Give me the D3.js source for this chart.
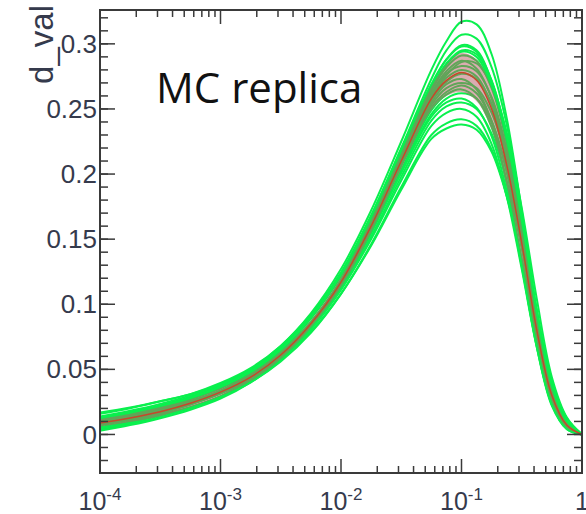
<!DOCTYPE html>
<html>
<head>
<meta charset="utf-8">
<script src="https://cdn.jsdelivr.net/npm/d3@7"></script>
<style>
  body { margin: 0; background: #fff; }
  svg { display: block; }
</style>
</head>
<body>
<div id="chart"></div>
<script>
// x grid as powers of ten
let xExp = [-4, -3.75, -3.5, -3.25, -3, -2.75, -2.5, -2.25, -2, -1.75, -1.5, -1.25, -1.125, -1, -0.875, -0.75, -0.625, -0.5, -0.375, -0.25, -0.125, 0];

// central (red) curve
let central = [0.0088, 0.0127, 0.0175, 0.024, 0.0325, 0.044, 0.061, 0.085, 0.117, 0.160, 0.210, 0.258, 0.272, 0.278, 0.272, 0.250, 0.207, 0.147, 0.080, 0.030, 0.007, 0];

// 1 sigma band
let bandHi = [0.012, 0.016, 0.021, 0.027, 0.0355, 0.047, 0.064, 0.088, 0.121, 0.165, 0.216, 0.267, 0.284, 0.293, 0.288, 0.266, 0.223, 0.160, 0.089, 0.035, 0.009, 0];
let bandLo = [0.006, 0.0095, 0.014, 0.021, 0.0295, 0.041, 0.058, 0.082, 0.113, 0.155, 0.204, 0.249, 0.260, 0.263, 0.256, 0.234, 0.191, 0.134, 0.071, 0.025, 0.005, 0];

// MC replicas (green)
let replicas = [
  [0.0128, 0.0172, 0.0225, 0.029, 0.0375, 0.050, 0.068, 0.093, 0.127, 0.172, 0.225, 0.280, 0.302, 0.317, 0.315, 0.292, 0.243, 0.172, 0.094, 0.036, 0.009, 0],
  [0.0108, 0.0152, 0.0205, 0.027, 0.0355, 0.048, 0.066, 0.091, 0.124, 0.168, 0.220, 0.273, 0.295, 0.307, 0.304, 0.282, 0.238, 0.170, 0.095, 0.037, 0.010, 0],
  [0.0158, 0.0202, 0.0255, 0.031, 0.0395, 0.051, 0.068, 0.092, 0.124, 0.167, 0.217, 0.268, 0.288, 0.299, 0.295, 0.271, 0.224, 0.155, 0.082, 0.029, 0.006, 0],
  [0.0088, 0.0132, 0.0185, 0.025, 0.0335, 0.046, 0.064, 0.089, 0.122, 0.166, 0.216, 0.266, 0.284, 0.294, 0.290, 0.268, 0.226, 0.163, 0.091, 0.036, 0.009, 0],
  [0.0038, 0.0082, 0.0135, 0.020, 0.0285, 0.041, 0.059, 0.084, 0.118, 0.163, 0.214, 0.264, 0.282, 0.291, 0.287, 0.266, 0.225, 0.165, 0.095, 0.040, 0.012, 0],
  [0.0138, 0.0182, 0.0235, 0.030, 0.0385, 0.050, 0.067, 0.090, 0.122, 0.165, 0.214, 0.262, 0.279, 0.287, 0.281, 0.258, 0.213, 0.149, 0.079, 0.028, 0.006, 0],
  [0.0068, 0.0112, 0.0165, 0.023, 0.0315, 0.044, 0.061, 0.086, 0.119, 0.163, 0.213, 0.261, 0.277, 0.283, 0.279, 0.259, 0.219, 0.160, 0.091, 0.037, 0.010, 0],
  [0.0098, 0.0142, 0.0195, 0.025, 0.0335, 0.045, 0.062, 0.086, 0.118, 0.161, 0.211, 0.259, 0.274, 0.280, 0.275, 0.253, 0.210, 0.149, 0.081, 0.031, 0.007, 0],
  [0.0048, 0.0092, 0.0145, 0.021, 0.0295, 0.042, 0.059, 0.083, 0.116, 0.159, 0.209, 0.257, 0.271, 0.277, 0.273, 0.254, 0.215, 0.158, 0.091, 0.038, 0.011, 0],
  [0.0128, 0.0167, 0.0215, 0.0275, 0.0355, 0.047, 0.063, 0.086, 0.117, 0.159, 0.208, 0.255, 0.269, 0.273, 0.265, 0.240, 0.193, 0.131, 0.067, 0.022, 0.004, 0],
  [0.0078, 0.0117, 0.0165, 0.023, 0.0315, 0.043, 0.061, 0.085, 0.117, 0.159, 0.207, 0.253, 0.266, 0.270, 0.266, 0.247, 0.210, 0.157, 0.094, 0.041, 0.012, 0],
  [0.0108, 0.0147, 0.0195, 0.025, 0.0325, 0.043, 0.060, 0.083, 0.114, 0.155, 0.203, 0.249, 0.261, 0.265, 0.258, 0.236, 0.193, 0.134, 0.071, 0.025, 0.005, 0],
  [0.0028, 0.0072, 0.0125, 0.019, 0.0275, 0.040, 0.057, 0.081, 0.113, 0.155, 0.202, 0.246, 0.258, 0.262, 0.258, 0.240, 0.204, 0.153, 0.091, 0.040, 0.012, 0],
  [0.0168, 0.0207, 0.0255, 0.031, 0.0385, 0.049, 0.064, 0.086, 0.116, 0.155, 0.201, 0.244, 0.255, 0.258, 0.251, 0.229, 0.187, 0.129, 0.068, 0.023, 0.005, 0],
  [0.0088, 0.0127, 0.0175, 0.0235, 0.0315, 0.042, 0.058, 0.081, 0.112, 0.152, 0.198, 0.241, 0.252, 0.255, 0.250, 0.231, 0.195, 0.143, 0.083, 0.034, 0.009, 0],
  [0.0118, 0.0157, 0.0205, 0.026, 0.0335, 0.044, 0.059, 0.081, 0.111, 0.150, 0.195, 0.237, 0.247, 0.250, 0.244, 0.223, 0.183, 0.127, 0.067, 0.023, 0.004, 0],
  [0.0058, 0.0102, 0.0155, 0.021, 0.029, 0.040, 0.056, 0.078, 0.108, 0.146, 0.190, 0.230, 0.239, 0.242, 0.237, 0.219, 0.184, 0.134, 0.077, 0.031, 0.008, 0],
  [0.0098, 0.0137, 0.0185, 0.024, 0.032, 0.043, 0.058, 0.079, 0.108, 0.145, 0.188, 0.227, 0.235, 0.238, 0.234, 0.217, 0.183, 0.134, 0.078, 0.033, 0.009, 0],
  [0.0078, 0.0122, 0.0175, 0.0245, 0.0335, 0.047, 0.065, 0.091, 0.124, 0.168, 0.219, 0.269, 0.288, 0.298, 0.294, 0.272, 0.229, 0.165, 0.092, 0.036, 0.009, 0],
  [0.0088, 0.0127, 0.0175, 0.024, 0.0325, 0.044, 0.061, 0.085, 0.117, 0.160, 0.210, 0.259, 0.276, 0.286, 0.285, 0.268, 0.232, 0.174, 0.104, 0.044, 0.013, 0],
  [0.0118, 0.0162, 0.0215, 0.028, 0.0365, 0.049, 0.066, 0.090, 0.122, 0.165, 0.216, 0.266, 0.285, 0.295, 0.292, 0.271, 0.230, 0.166, 0.092, 0.035, 0.008, 0],
  [0.0098, 0.0137, 0.0185, 0.025, 0.0335, 0.045, 0.062, 0.086, 0.117, 0.158, 0.206, 0.251, 0.263, 0.268, 0.262, 0.241, 0.201, 0.144, 0.079, 0.030, 0.007, 0]
];

// ticks
let yTicks = [0, 0.05, 0.1, 0.15, 0.2, 0.25, 0.3];
let yLabels = ["0", "0.05", "0.1", "0.15", "0.2", "0.25", "0.3"];
let xTicks = [1e-4, 1e-3, 1e-2, 1e-1, 1];
let xBase = ["10", "10", "10", "10", "1"];
let xSup = ["-4", "-3", "-2", "-1", ""];

let svgWidth = 586;
let svgHeight = 514;

let frame = { left: 100, right: 582, top: 10, bottom: 473 };

let svg = d3.select("#chart")
    .append("svg")
    .attr("width", svgWidth)
    .attr("height", svgHeight);

let xScale = d3.scaleLog()
    .domain([1e-4, 1])
    .range([frame.left, frame.right]);

let yScale = d3.scaleLinear()
    .domain([-0.0296, 0.326])
    .range([frame.bottom, frame.top]);

let xs = xExp.map(e => Math.pow(10, e));

svg.append("clipPath").attr("id", "plotClip")
    .append("rect")
    .attr("x", frame.left).attr("y", frame.top)
    .attr("width", frame.right - frame.left)
    .attr("height", frame.bottom - frame.top);

let plot = svg.append("g").attr("clip-path", "url(#plotClip)");

let line = d3.line()
    .x((d, i) => xScale(xs[i]))
    .y(d => yScale(d))
    .curve(d3.curveCatmullRom.alpha(0.5));

// green replicas
plot.selectAll("path.replica")
    .data(replicas)
    .enter()
    .append("path")
    .attr("class", "replica")
    .attr("d", line)
    .attr("fill", "none")
    .attr("stroke", "#0af04e")
    .attr("stroke-width", 2);

// band (semi transparent red over the green)
let area = d3.area()
    .x((d, i) => xScale(xs[i]))
    .y0((d, i) => yScale(bandLo[i]))
    .y1((d, i) => yScale(bandHi[i]))
    .curve(d3.curveCatmullRom.alpha(0.5));

plot.append("path")
    .attr("d", area(bandHi))
    .attr("fill", "#b85a64")
    .attr("fill-opacity", 0.5);

// central line
plot.append("path")
    .attr("d", line(central))
    .attr("fill", "none")
    .attr("stroke", "#c8462a")
    .attr("stroke-width", 1.5);

// frame + ticks
let axisColor = "#3a3a3a";
let axes = svg.append("g").attr("stroke", axisColor).attr("fill", "none");

axes.append("rect")
    .attr("x", frame.left).attr("y", frame.top)
    .attr("width", frame.right - frame.left)
    .attr("height", frame.bottom - frame.top)
    .attr("stroke-width", 2);

let yMinor = d3.range(-0.02, 0.3251, 0.01).map(v => Math.round(v * 100) / 100);
let xMinor = [];
[1e-4, 1e-3, 1e-2, 1e-1].forEach(dec => {
    for (let k = 2; k <= 9; k++) xMinor.push(dec * k);
});

function yTick(v, len) {
    let yy = yScale(v);
    axes.append("line").attr("x1", frame.left).attr("x2", frame.left + len)
        .attr("y1", yy).attr("y2", yy).attr("stroke-width", 1.5);
    axes.append("line").attr("x1", frame.right).attr("x2", frame.right - len)
        .attr("y1", yy).attr("y2", yy).attr("stroke-width", 1.5);
}
function xTick(v, len) {
    let xx = xScale(v);
    axes.append("line").attr("x1", xx).attr("x2", xx)
        .attr("y1", frame.bottom).attr("y2", frame.bottom - len).attr("stroke-width", 1.5);
    axes.append("line").attr("x1", xx).attr("x2", xx)
        .attr("y1", frame.top).attr("y2", frame.top + len).attr("stroke-width", 1.5);
}
yMinor.forEach(v => yTick(v, 8));
yTicks.forEach(v => yTick(v, 15));
xMinor.forEach(v => xTick(v, 7));
xTicks.forEach(v => xTick(v, 14));

// tick labels
let labelColor = "#353a4c";
svg.selectAll("text.ylab")
    .data(yTicks)
    .enter()
    .append("text")
    .attr("class", "ylab")
    .attr("x", frame.left - 3)
    .attr("y", d => yScale(d))
    .attr("dy", "0.35em")
    .attr("text-anchor", "end")
    .attr("font-family", "Liberation Sans, Arial, sans-serif")
    .attr("font-size", 26)
    .attr("fill", labelColor)
    .text((d, i) => yLabels[i]);

let xl = svg.selectAll("text.xlab")
    .data(xTicks)
    .enter()
    .append("text")
    .attr("class", "xlab")
    .attr("x", d => xScale(d))
    .attr("y", 510)
    .attr("text-anchor", "middle")
    .attr("font-family", "Liberation Sans, Arial, sans-serif")
    .attr("font-size", 25)
    .attr("fill", labelColor);
xl.append("tspan").text((d, i) => xBase[i]);
xl.append("tspan")
    .attr("dy", -10)
    .attr("font-size", 17)
    .text((d, i) => xSup[i]);

// axis title
svg.append("text")
    .attr("transform", "translate(53, 5) rotate(-90)")
    .attr("text-anchor", "end")
    .attr("font-family", "Liberation Sans, Arial, sans-serif")
    .attr("font-size", 33)
    .attr("fill", labelColor)
    .text("d_val");

// label
svg.append("text")
    .attr("x", 156)
    .attr("y", 103)
    .attr("font-family", "Open Sans, sans-serif")
    .attr("font-size", 42)
    .attr("fill", "#111")
    .text("MC replica");
</script>
</body>
</html>
